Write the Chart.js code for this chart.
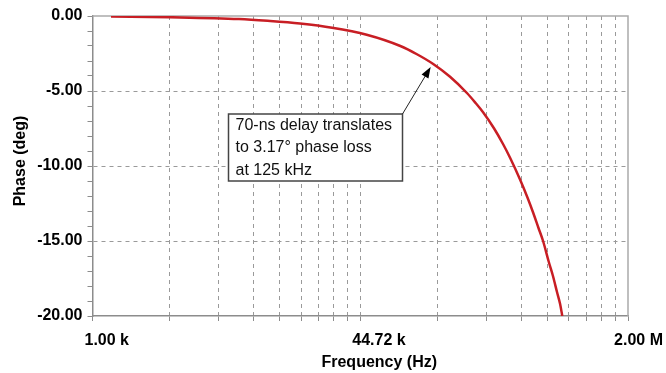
<!DOCTYPE html>
<html>
<head>
<meta charset="utf-8">
<script src="https://cdn.jsdelivr.net/npm/chart.js@4.4.1/dist/chart.umd.min.js"></script>
<style>
  html, body { margin: 0; padding: 0; background: #fff; }
  #wrap { width: 666px; height: 373px; }
</style>
</head>
<body>
<div id="wrap"><canvas id="phaseChart"></canvas></div>
<script>
// phase of a 70 ns delay (frequency in kHz, phase in deg)
const freqKHz = [1.3, 3, 8, 12, 19, 30, 49, 79, 100, 126, 160, 204, 230, 255, 299, 340, 375, 432, 480, 520, 560, 599, 650, 688, 730, 763, 787];
const phaseDeg = [-0.03, -0.08, -0.2, -0.32, -0.5, -0.78, -1.25, -2.0, -2.55, -3.2, -4.05, -5.15, -5.8, -6.4, -7.5, -8.55, -9.45, -10.9, -12.1, -13.1, -14.1, -15.0, -16.4, -17.3, -18.4, -19.2, -20.0];

// x grid lines (kHz) and the labelled ones
const freqGrid = [1, 3, 6, 9.8, 14.2, 19.3, 24.7, 30.5, 37.4, 44.72, 134, 268, 438, 635, 863, 1105, 1364, 1673, 2000];
const labelFreqs = [1, 44.72, 2000];
const labelTexts = ['1.00 k', '44.72 k', '2.00 M'];

const noteLines = ['70-ns delay translates', 'to 3.17° phase loss', 'at 125 kHz'];
const notePoint = [125, -3.17];

const FONT = '"Liberation Sans", Arial, sans-serif';
const GRID = '#9a9a9a';
const AXIS = '#8c8c8c';
const NONE = 'rgba(0,0,0,0)';

const points = freqKHz.map((f, i) => ({ x: f, y: phaseDeg[i] }));

const extras = {
  id: 'extras',
  beforeDatasetsDraw(chart) {
    const { ctx, chartArea: a } = chart;
    ctx.save();
    ctx.strokeStyle = '#aaaaaa';
    ctx.lineWidth = 1.5;
    ctx.beginPath();
    ctx.moveTo(a.left, a.top);
    ctx.lineTo(a.right, a.top);
    ctx.lineTo(a.right, a.bottom);
    ctx.stroke();
    ctx.restore();
  },
  afterDraw(chart) {
    const { ctx, chartArea: a, scales: { x, y } } = chart;
    ctx.save();
    ctx.fillStyle = '#000';
    ctx.font = 'bold 16px ' + FONT;
    ctx.textBaseline = 'middle';

    // x tick labels
    labelFreqs.forEach((f, i) => {
      const px = x.getPixelForValue(f);
      if (i === labelFreqs.length - 1) {
        ctx.textAlign = 'right';
        ctx.fillText(labelTexts[i], chart.width - 3, a.bottom + 25);
      } else {
        ctx.textAlign = 'left';
        ctx.fillText(labelTexts[i], px - 8, a.bottom + 25);
      }
    });

    // axis titles
    ctx.textAlign = 'center';
    ctx.fillText('Frequency (Hz)', (a.left + a.right) / 2 + 19, a.bottom + 47);
    ctx.save();
    ctx.translate(21, (a.top + a.bottom) / 2 - 5);
    ctx.rotate(-Math.PI / 2);
    ctx.fillText('Phase (deg)', 0, 0);
    ctx.restore();

    // note box
    const bx = a.left + 136, by = a.top + 98, bw = 174, bh = 67;
    ctx.fillStyle = '#fff';
    ctx.fillRect(bx, by, bw, bh);
    ctx.strokeStyle = '#444';
    ctx.lineWidth = 1.5;
    ctx.strokeRect(bx, by, bw, bh);
    ctx.fillStyle = '#111';
    ctx.font = '16px ' + FONT;
    ctx.textAlign = 'left';
    noteLines.forEach((t, i) => ctx.fillText(t, bx + 7, by + 11.5 + i * 22.5));

    // arrow to the 125 kHz point
    const tx = x.getPixelForValue(notePoint[0]) - 2;
    const ty = y.getPixelForValue(notePoint[1]) + 3.5;
    const sx = bx + bw, sy = by;
    const ang = Math.atan2(ty - sy, tx - sx);
    ctx.strokeStyle = '#222';
    ctx.lineWidth = 1;
    ctx.beginPath();
    ctx.moveTo(sx, sy);
    ctx.lineTo(tx - 9 * Math.cos(ang), ty - 9 * Math.sin(ang));
    ctx.stroke();
    ctx.fillStyle = '#000';
    ctx.beginPath();
    ctx.moveTo(tx, ty);
    ctx.lineTo(tx - 11 * Math.cos(ang) + 4 * Math.sin(ang), ty - 11 * Math.sin(ang) - 4 * Math.cos(ang));
    ctx.lineTo(tx - 11 * Math.cos(ang) - 4 * Math.sin(ang), ty - 11 * Math.sin(ang) + 4 * Math.cos(ang));
    ctx.closePath();
    ctx.fill();
    ctx.restore();
  }
};

new Chart(document.getElementById('phaseChart'), {
  type: 'line',
  data: {
    datasets: [{
      data: points,
      borderColor: '#c81e24',
      borderWidth: 2.5,
      pointRadius: 0,
      cubicInterpolationMode: 'monotone',
      fill: false
    }]
  },
  options: {
    responsive: true,
    maintainAspectRatio: false,
    animation: false,
    layout: { padding: { top: 16, right: 38, left: 0, bottom: 0 } },
    plugins: { legend: { display: false }, tooltip: { enabled: false } },
    scales: {
      x: {
        type: 'logarithmic',
        min: 1,
        max: 2000,
        afterBuildTicks: s => { s.ticks = freqGrid.map(v => ({ value: v })); },
        afterFit: s => { s.height = 57; },
        ticks: { display: false },
        grid: {
          color: c => (c.tick && (c.tick.value === 1 || c.tick.value === 2000)) ? NONE : GRID,
          tickColor: AXIS,
          tickLength: 5,
          lineWidth: 1
        },
        border: { color: AXIS, width: 1.5, dash: [4, 4] }
      },
      y: {
        type: 'linear',
        min: -20,
        max: 0,
        afterFit: s => { s.width = 92.5; },
        ticks: {
          stepSize: 1,
          autoSkip: false,
          padding: 5,
          color: '#000',
          font: { family: FONT, size: 16, weight: 'bold' },
          callback: v => (v % 5 === 0 ? Math.abs(v) < 1e-9 ? '0.00' : v.toFixed(2) : '')
        },
        grid: {
          color: c => {
            const v = c.tick ? c.tick.value : 0;
            return (v % 5 === 0 && v !== 0 && v !== -20) ? GRID : NONE;
          },
          tickColor: AXIS,
          tickLength: 5,
          lineWidth: 1
        },
        border: { color: AXIS, width: 1.5, dash: [4, 4] }
      }
    }
  },
  plugins: [extras]
});
</script>
</body>
</html>
